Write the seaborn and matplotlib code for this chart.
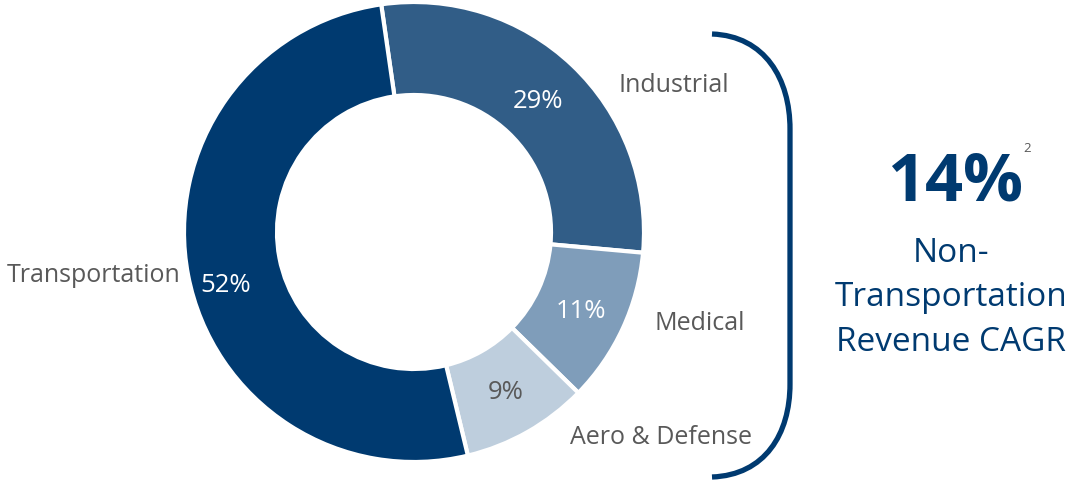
import matplotlib
matplotlib.use("Agg")
import matplotlib.pyplot as plt
import seaborn as sns
from matplotlib.path import Path
from matplotlib.patches import PathPatch

# ---- data ----
segments = ["Industrial", "Medical", "Aero & Defense", "Transportation"]
shares = [29, 11, 9, 52]
pct_labels = ["29%", "11%", "9%", "52%"]
cagr_value = "14%"
cagr_note = "2"
cagr_caption = "Non-\nTransportation\nRevenue CAGR"

# ---- style ----
colors = ["#315D87", "#7F9DBA", "#BECEDD", "#003A70"]
pct_colors = ["white", "white", "#595959", "white"]
navy = "#003A70"
gray = "#595959"

sns.set_theme(style="white")
plt.rcParams['font.family'] = ['Open Sans', 'DejaVu Sans']

W, H = 1071, 485
fig = plt.figure(figsize=(W / 100, H / 100), dpi=100)
ax = fig.add_axes([0, 0, 1, 1])


def Y(y):
    return H - y


cx, cy, R = 414, Y(233), 230
ax.pie(shares, colors=colors, startangle=98.2, counterclock=False,
       center=(cx, cy), radius=R, frame=True,
       wedgeprops=dict(width=93, edgecolor="white", linewidth=3))
ax.set_xlim(0, W)
ax.set_ylim(0, H)
ax.set_aspect("equal")
ax.axis("off")

label_pos = [(674, 85), (700, 323), (661, 438), (94, 275)]
pct_pos = [(538, 102), (581, 311), (506, 393), (226, 285)]
for name, (x, y) in zip(segments, label_pos):
    ax.text(x, Y(y), name, ha="center", va="center", fontsize=18, color=gray)
for p, c, (x, y) in zip(pct_labels, pct_colors, pct_pos):
    ax.text(x, Y(y), p, ha="center", va="center", fontsize=18.5, color=c)

# bracket
verts = [(712, Y(35)), (765, Y(37)), (790, Y(80)), (790, Y(130)),
         (790, Y(385)),
         (790, Y(435)), (765, Y(476)), (712, Y(478))]
codes = [Path.MOVETO, Path.CURVE4, Path.CURVE4, Path.CURVE4,
         Path.LINETO,
         Path.CURVE4, Path.CURVE4, Path.CURVE4]
ax.add_patch(PathPatch(Path(verts, codes), fill=False, edgecolor=navy,
                       linewidth=3.8, capstyle="butt"))

ax.text(955, Y(183), cagr_value, ha="center", va="center", fontsize=48,
        fontweight="bold", color=navy)
ax.text(1027, Y(148), cagr_note, ha="center", va="center", fontsize=9.5,
        color=gray)
ax.text(951, Y(298), cagr_caption, ha="center", va="center", fontsize=24,
        color=navy, linespacing=1.45)

fig.savefig("out.png", dpi=100)
